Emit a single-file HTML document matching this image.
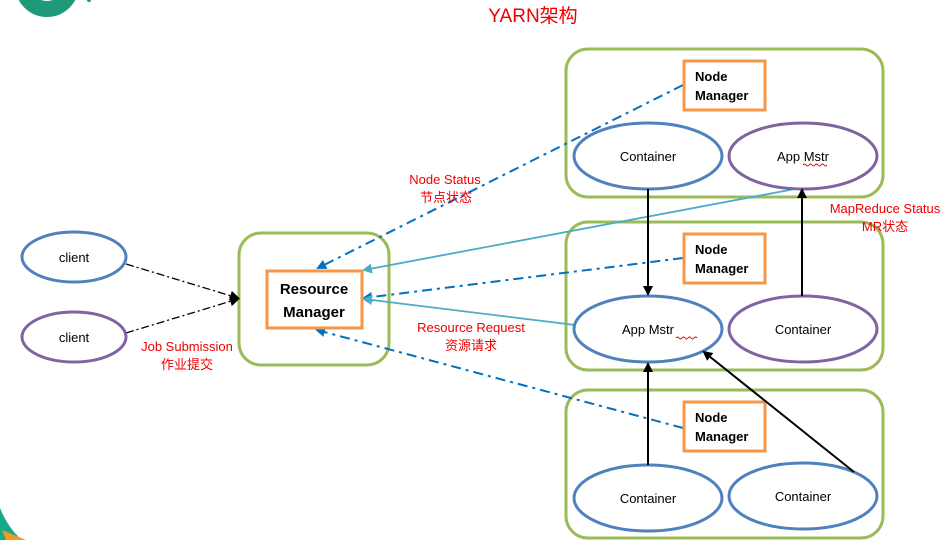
<!DOCTYPE html>
<html><head><meta charset="utf-8"><style>
html,body{margin:0;padding:0;background:#fff;}
svg{display:block;font-family:"Liberation Sans","Noto Sans CJK SC",sans-serif;}
</style></head><body>
<svg width="950" height="540" viewBox="0 0 950 540" xmlns="http://www.w3.org/2000/svg">
<defs>
<marker id="ab" markerWidth="10" markerHeight="10" refX="8" refY="5" orient="auto" markerUnits="userSpaceOnUse"><path d="M0,0 L10,5 L0,10 z" fill="#000"/></marker>
<marker id="ad" markerWidth="10" markerHeight="10" refX="8" refY="5" orient="auto" markerUnits="userSpaceOnUse"><path d="M0,0 L10,5 L0,10 z" fill="#0070c0"/></marker>
<marker id="al" markerWidth="10" markerHeight="10" refX="8" refY="5" orient="auto" markerUnits="userSpaceOnUse"><path d="M0,0 L10,5 L0,10 z" fill="#4bacc6"/></marker>
</defs>
<!-- logo fragments -->
<circle cx="47" cy="-15" r="24" fill="none" stroke="#1f9a78" stroke-width="16"/>
<circle cx="89" cy="0" r="2" fill="#1f9a78"/>
<path d="M0,508 Q8,528 22,540 L0,540 z" fill="#1aa88a"/>
<path d="M2,530 Q14,535 26,540 L6,540 z" fill="#f59a20"/>
<text x="533" y="22" font-size="19" fill="#e00" text-anchor="middle">YARN架构</text>

<!-- groups -->
<g fill="none" stroke="#9bbb59" stroke-width="3">
<rect x="239" y="233" width="150" height="132" rx="22"/>
<rect x="566" y="49" width="317" height="148" rx="22"/>
<rect x="566" y="222" width="317" height="148" rx="22"/>
<rect x="566" y="390" width="317" height="148" rx="22"/>
</g>

<!-- connectors (behind shapes) -->
<g fill="none" stroke-width="1.3">
<line x1="126" y1="264" x2="238" y2="298" stroke="#000" stroke-dasharray="8,3,2,3" marker-end="url(#ab)"/>
<line x1="126" y1="333" x2="238" y2="299" stroke="#000" stroke-dasharray="8,3,2,3" marker-end="url(#ab)"/>
</g>
<g fill="none" stroke="#0070c0" stroke-width="2" stroke-dasharray="10,5,3,5">
<line x1="683" y1="85" x2="318" y2="268" marker-end="url(#ad)"/>
<line x1="683" y1="258" x2="364" y2="298" marker-end="url(#ad)"/>
<line x1="683" y1="428" x2="317" y2="330" marker-end="url(#ad)"/>
</g>
<g fill="none" stroke="#4bacc6" stroke-width="1.8">
<line x1="800" y1="188" x2="364" y2="270" marker-end="url(#al)"/>
<line x1="575" y1="325" x2="364" y2="299" marker-end="url(#al)"/>
</g>

<g fill="#fff" stroke="#f79646" stroke-width="3">
<rect x="267" y="271" width="95" height="57"/>
<rect x="684" y="61" width="81" height="49"/>
<rect x="684" y="234" width="81" height="49"/>
<rect x="684" y="402" width="81" height="49"/>
</g>
<g font-weight="bold" fill="#000">
<text x="314" y="294" font-size="15" text-anchor="middle">Resource</text>
<text x="314" y="317" font-size="15" text-anchor="middle">Manager</text>
<text x="695" y="81" font-size="13">Node</text><text x="695" y="100" font-size="13">Manager</text>
<text x="695" y="254" font-size="13">Node</text><text x="695" y="273" font-size="13">Manager</text>
<text x="695" y="422" font-size="13">Node</text><text x="695" y="441" font-size="13">Manager</text>
</g>
<!-- ellipses -->
<g fill="#fff" stroke-width="3">
<ellipse cx="74" cy="257" rx="52" ry="25" stroke="#4f81bd"/>
<ellipse cx="74" cy="337" rx="52" ry="25" stroke="#8064a2"/>
<ellipse cx="648" cy="156" rx="74" ry="33" stroke="#4f81bd"/>
<ellipse cx="803" cy="156" rx="74" ry="33" stroke="#8064a2"/>
<ellipse cx="648" cy="329" rx="74" ry="33" stroke="#4f81bd"/>
<ellipse cx="803" cy="329" rx="74" ry="33" stroke="#8064a2"/>
<ellipse cx="648" cy="498" rx="74" ry="33" stroke="#4f81bd"/>
<ellipse cx="803" cy="496" rx="74" ry="33" stroke="#4f81bd"/>
</g>
<g font-size="13" fill="#000" text-anchor="middle">
<text x="74" y="262">client</text>
<text x="74" y="342">client</text>
<text x="648" y="161">Container</text>
<text x="803" y="161">App Mstr</text>
<text x="648" y="334">App Mstr</text>
<text x="803" y="334">Container</text>
<text x="648" y="503">Container</text>
<text x="803" y="501">Container</text>
</g>
<g stroke="#e00" stroke-width="1" fill="none">
<path d="M803,165 q1.5,-2 3,0 t3,0 t3,0 t3,0 t3,0 t3,0 t3,0 t3,0"/>
<path d="M676,338 q1.5,-2 3,0 t3,0 t3,0 t3,0 t3,0 t3,0 t3,0"/>
</g>

<g fill="none" stroke="#000" stroke-width="2">
<line x1="648" y1="189" x2="648" y2="294" marker-end="url(#ab)"/>
<line x1="802" y1="296" x2="802" y2="190" marker-end="url(#ab)"/>
<line x1="648" y1="465" x2="648" y2="364" marker-end="url(#ab)"/>
<line x1="854" y1="472" x2="704" y2="352" marker-end="url(#ab)"/>
</g>

<!-- labels -->
<g fill="#e00" font-size="13" text-anchor="middle">
<text x="445" y="184">Node Status</text>
<text x="446" y="202">节点状态</text>
<text x="885" y="213">MapReduce Status</text>
<text x="885" y="231">MR状态</text>
<text x="471" y="332">Resource Request</text>
<text x="471" y="350">资源请求</text>
<text x="187" y="351">Job Submission</text>
<text x="187" y="369">作业提交</text>
</g>
</svg>
</body></html>
